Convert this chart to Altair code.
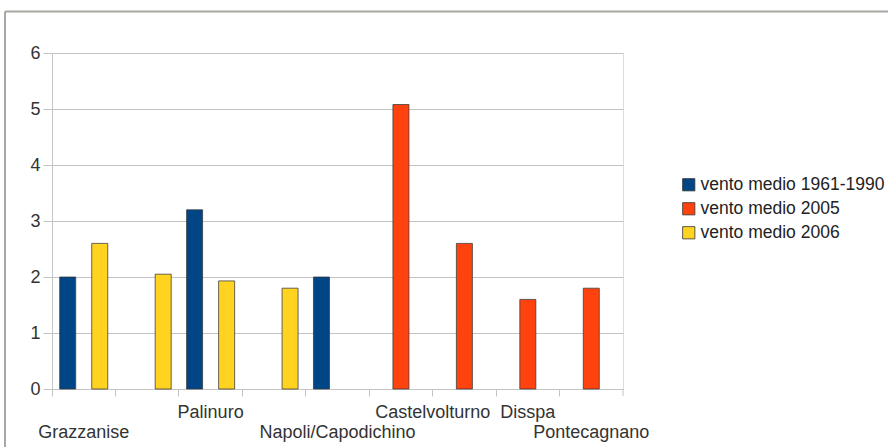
import altair as alt
import pandas as pd

# Station slots along the x axis (9 groups of bars)
slots = ["1", "2", "3", "4", "5", "6", "7", "8", "9"]

series = ["vento medio 1961-1990", "vento medio 2005", "vento medio 2006"]
colors = ["#004586", "#ff420e", "#ffd320"]

# Mean wind speed per slot for each series (None = no bar)
vento_1961_1990 = [2.0, None, 3.2, None, 2.0, None, None, None, None]
vento_2005 = [None, None, None, None, None, 5.08, 2.6, 1.6, 1.8]
vento_2006 = [2.6, 2.05, 1.93, 1.8, None, None, None, None, None]

# Station names shown under the axis, in category units and staggered rows
label_text = ["Grazzanise", "Palinuro", "Napoli/Capodichino",
              "Castelvolturno", "Disspa", "Pontecagnano"]
label_pos = [0.5, 2.5, 4.5, 6.0, 7.5, 8.5]
label_row = ["lower", "upper", "lower", "upper", "upper", "lower"]

rows = []
for name, vals in zip(series, [vento_1961_1990, vento_2005, vento_2006]):
    for s, v in zip(slots, vals):
        if v is not None:
            rows.append({"slot": s, "serie": name, "vento": v})
bars_df = pd.DataFrame(rows)

labels_df = pd.DataFrame({"label": label_text, "pos": label_pos, "row": label_row})

W, H = 571, 336
LEFT, TOP = 52, 53
FONT = "Liberation Sans"
FS = 18
GRID = "#c4c4c4"

bars = alt.Chart(bars_df).mark_bar(
    stroke="#3a3a3a", strokeWidth=0.9, strokeOpacity=0.85
).encode(
    x=alt.X(
        "slot:N", sort=slots, title=None,
        scale=alt.Scale(paddingInner=0, paddingOuter=0),
        axis=alt.Axis(labels=False, bandPosition=0, tickSize=7, tickColor=GRID,
                      domainColor=GRID, grid=False),
    ),
    xOffset=alt.XOffset(
        "serie:N", sort=series,
        scale=alt.Scale(domain=series, paddingInner=0, paddingOuter=0.48),
    ),
    y=alt.Y(
        "vento:Q", title=None,
        scale=alt.Scale(domain=[0, 6]),
        axis=alt.Axis(values=[0, 1, 2, 3, 4, 5, 6], tickSize=9, tickColor=GRID,
                      domainColor=GRID, gridColor=GRID, labelPadding=3,
                      labelFont=FONT, labelFontSize=FS, labelColor="#333333"),
    ),
    color=alt.Color(
        "serie:N", sort=series, title=None,
        scale=alt.Scale(domain=series, range=colors),
        legend=alt.Legend(
            orient="none", legendX=628, legendY=123,
            symbolType="square", symbolSize=150, symbolStrokeColor="#333333",
            symbolStrokeWidth=0.8, labelFont=FONT, labelFontSize=17.5,
            labelColor="#222222", labelOffset=3, rowPadding=5, labelLimit=400,
        ),
    ),
)

# closing tick at the right end of the category axis
end_tick = alt.Chart(pd.DataFrame({"k": [0]})).mark_rule(color=GRID).encode(
    x=alt.value(W), y=alt.value(H), y2=alt.value(H + 7)
)

label_x = alt.X("pos:Q", scale=alt.Scale(domain=[0, 9]), axis=None)
upper = alt.Chart(labels_df).transform_filter("datum.row == 'upper'").mark_text(
    font=FONT, fontSize=FS, color="#333333", baseline="middle"
).encode(x=label_x, y=alt.value(H + 24), text="label:N")
lower = alt.Chart(labels_df).transform_filter("datum.row == 'lower'").mark_text(
    font=FONT, fontSize=FS, color="#333333", baseline="middle"
).encode(x=label_x, y=alt.value(H + 44), text="label:N")

# page frame lines (top and left edges)
frame_top = alt.Chart(pd.DataFrame({"k": [0]})).mark_rule(
    color="#a8a8a0", strokeWidth=2
).encode(x=alt.value(-LEFT + 5), x2=alt.value(888 - LEFT), y=alt.value(-TOP + 11.5))
frame_left = alt.Chart(pd.DataFrame({"k": [0]})).mark_rule(
    color="#a8a8a0", strokeWidth=2
).encode(x=alt.value(-LEFT + 5), y=alt.value(-TOP + 11.5), y2=alt.value(447 - TOP))

chart = alt.layer(
    bars, end_tick, upper, lower, frame_top, frame_left
).resolve_scale(x="independent").properties(
    width=W, height=H,
    autosize=alt.AutoSizeParams(type="none"),
    padding={"left": LEFT, "top": TOP, "right": 888 - LEFT - W, "bottom": 447 - TOP - H},
).configure_view(stroke="transparent").configure(background="white")

chart.save("out.html", embed_options={"renderer": "svg", "actions": False})
